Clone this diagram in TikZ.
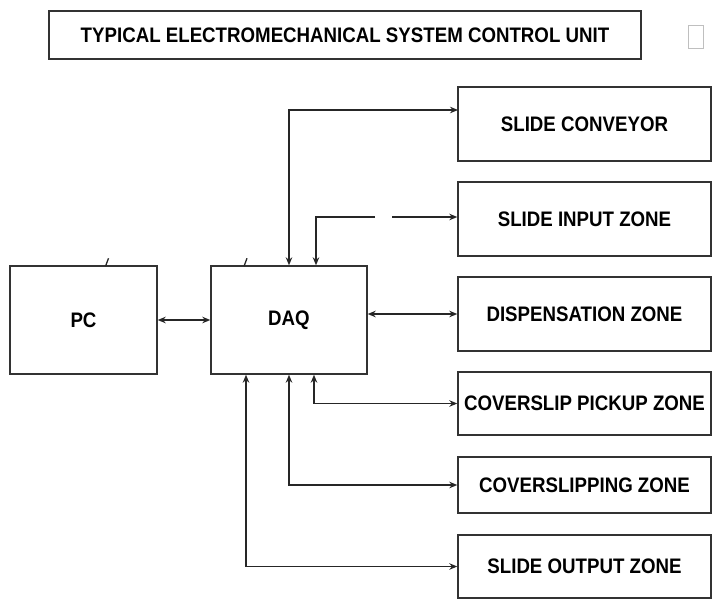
\documentclass[tikz,border=0pt]{standalone}
\usepackage{fontspec}
\setmainfont{Liberation Sans}
\newfontfamily\labfont[FakeStretch=0.89]{Liberation Sans}
\usetikzlibrary{arrows.meta}
\begin{document}
\begin{tikzpicture}[x=1pt,y=-1pt,
  box/.style={draw=black!80, line width=1.4pt, inner sep=0pt, font=\labfont\bfseries\fontsize{21}{24}\selectfont},
  conn/.style={draw=black!85, line width=1.3pt},
  tip/.style={-{Stealth[length=8pt,width=6.5pt]}},
  tips/.style={{Stealth[length=8pt,width=6.5pt]}-{Stealth[length=8pt,width=6.5pt]}}]
\useasboundingbox (0,0) rectangle (723,600);
\node[box, minimum width=592pt, minimum height=48pt] (title) at (345,35) {TYPICAL ELECTROMECHANICAL SYSTEM CONTROL UNIT};
\node[draw=black!25, line width=0.8pt, minimum width=15pt, minimum height=23pt, inner sep=0pt] (sq) at (696,36.5) {};
\node[box, minimum width=147pt, minimum height=108pt] (pc) at (83.5,320) {PC};
\node[box, minimum width=156pt, minimum height=108pt] (daq) at (289,320) {DAQ};
\node[box, minimum width=253pt, minimum height=74pt] (conv) at (584.5,124) {SLIDE CONVEYOR};
\node[box, minimum width=253pt, minimum height=74pt] (inz) at (584.5,219) {SLIDE INPUT ZONE};
\node[box, minimum width=253pt, minimum height=74pt] (disp) at (584.5,314) {DISPENSATION ZONE};
\node[box, minimum width=253pt, minimum height=63pt] (pick) at (584.5,403.5) {COVERSLIP PICKUP ZONE};
\node[box, minimum width=253pt, minimum height=56pt] (cslip) at (584.5,485) {COVERSLIPPING ZONE};
\node[box, minimum width=253pt, minimum height=63pt] (outz) at (584.5,566.5) {SLIDE OUTPUT ZONE};
% small slashes on top edges
\draw[conn] ([xshift=22pt,yshift=-1pt]pc.north) -- ([xshift=25pt,yshift=7pt]pc.north);
\draw[conn] ([xshift=-45pt,yshift=-1pt]daq.north) -- ([xshift=-42pt,yshift=7pt]daq.north);
% connectors
\draw[conn, tips] (pc.east) -- (daq.west);
\draw[conn, tips] (daq.east |- disp.west) -- (disp.west);
\coordinate (c1) at (458,110);
\draw[conn, tips] (daq.north) |- (c1);
\coordinate (in1) at (375,217);
\coordinate (in2) at (392,217);
\draw[conn, tip] (in1) -| ([xshift=27pt]daq.north);
\draw[conn, tip] (in2) -- (inz.west |- in2);
\draw[conn, tips] ([xshift=25pt]daq.south) |- (pick.west);
\draw[conn, tips] (daq.south) |- (cslip.west);
\draw[conn, tips] ([xshift=-43pt]daq.south) |- (outz.west);
\end{tikzpicture}
\end{document}
